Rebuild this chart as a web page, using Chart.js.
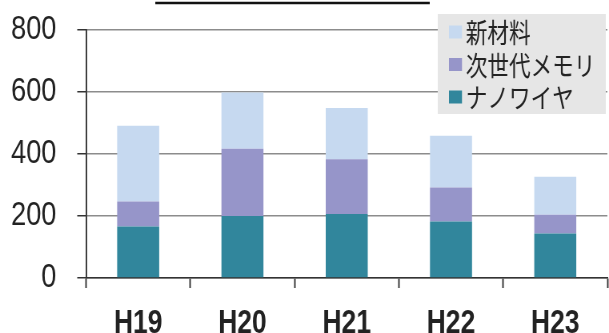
<!DOCTYPE html>
<html>
<head>
<meta charset="utf-8">
<script src="https://cdn.jsdelivr.net/npm/chart.js@4/dist/chart.umd.min.js"></script>
<style>
  html, body { margin: 0; padding: 0; background: #fff; overflow: hidden; }
  /* the figure is drawn wide and shown horizontally condensed */
  canvas { display: block; width: 609px; height: 333px; }
</style>
</head>
<body>
<canvas id="c" width="761" height="333" style="width:609px;height:333px"></canvas>
<script>
// Fiscal years (Heisei)
const years = ['H19', 'H20', 'H21', 'H22', 'H23'];
// Stacked segments, bottom to top
const nanowire = [166, 200, 206, 182, 143];   // ナノワイヤ
const memory   = [80, 216, 176, 109, 61];     // 次世代メモリ
const material = [244, 181, 165, 167, 122];   // 新材料
// Value axis ticks
const yTicks = [0, 200, 400, 600, 800];

const COLORS = {
  nanowire: '#31869c',
  memory: '#9695c9',
  material: '#c6d9f0'
};

const AXIS_DARK = '#333333';
const GRID_GRAY = '#8c8c8c';
const SQUEEZE = 0.8;            // horizontal display factor of the canvas
const LATIN = '"Liberation Sans", Arial, sans-serif';

// Title rule across the top and a boxed legend inside the plot
const decorations = {
  id: 'decorations',
  afterDraw(chart) {
    const ctx = chart.ctx;
    const area = chart.chartArea;
    ctx.save();

    // underline of the heading
    ctx.strokeStyle = '#111';
    ctx.lineWidth = 2.5;
    ctx.beginPath();
    ctx.moveTo(194, 3);
    ctx.lineTo(537, 3);
    ctx.stroke();

    // legend box (listed top of stack first)
    const items = chart.data.datasets.slice().reverse();
    const boxW = 210, boxH = 100;
    const bx = area.right - boxW - 2, by = 14;
    ctx.fillStyle = '#e6e6e6';
    ctx.fillRect(bx, by, boxW, boxH);
    ctx.font = '27px "Noto Sans CJK JP", sans-serif';
    ctx.textBaseline = 'middle';
    ctx.textAlign = 'left';
    const sw = 13;
    items.forEach((ds, i) => {
      const cy = by + 18 + i * 32.5;
      ctx.fillStyle = ds.backgroundColor;
      ctx.fillRect(bx + 14, cy - sw / 2, sw / SQUEEZE, sw);
      ctx.fillStyle = '#222';
      ctx.fillText(ds.label, bx + 35, cy + 1);
    });
    ctx.restore();
  }
};

new Chart(document.getElementById('c'), {
  type: 'bar',
  data: {
    labels: years,
    datasets: [
      { label: 'ナノワイヤ', data: nanowire, backgroundColor: COLORS.nanowire },
      { label: '次世代メモリ', data: memory, backgroundColor: COLORS.memory },
      { label: '新材料', data: material, backgroundColor: COLORS.material }
    ]
  },
  options: {
    responsive: false,
    animation: false,
    devicePixelRatio: 1,
    layout: { padding: { top: 29.5, right: 2, left: 0, bottom: 0 } },
    datasets: {
      bar: { categoryPercentage: 1, barPercentage: 0.403, borderWidth: 0 }
    },
    plugins: {
      legend: { display: false },
      tooltip: { enabled: false },
      title: { display: false }
    },
    scales: {
      x: {
        stacked: true,
        grid: {
          offset: true,
          drawOnChartArea: false,
          drawTicks: true,
          tickLength: 10,
          tickColor: AXIS_DARK,
          tickWidth: 1.9
        },
        border: { color: AXIS_DARK, width: 1.5 },
        ticks: {
          color: '#222',
          padding: 16,
          font: { family: LATIN, size: 33, weight: 'bold' }
        },
        afterFit(scale) { scale.height = 55; }
      },
      y: {
        stacked: true,
        min: 0,
        max: 800,
        afterBuildTicks(scale) { scale.ticks = yTicks.map(v => ({ value: v })); },
        grid: {
          color: GRID_GRAY,
          lineWidth: 1.5,
          drawTicks: true,
          tickLength: 11,
          tickColor: AXIS_DARK,
          tickWidth: 1.5
        },
        border: { color: AXIS_DARK, width: 1.9 },
        ticks: {
          color: '#222',
          padding: 26,
          font: { family: LATIN, size: 34 }
        },
        afterFit(scale) {
          scale.width = 107.5;
          // keep the plot top fixed by the layout padding alone
          scale.paddingTop = 0;
          scale.paddingBottom = 0;
        }
      }
    }
  },
  plugins: [decorations]
});
</script>
</body>
</html>
